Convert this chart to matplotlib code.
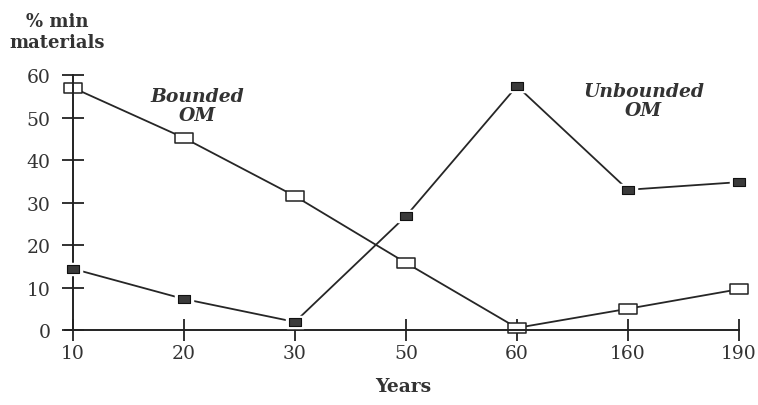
import numpy as np
import matplotlib.pyplot as plt
from matplotlib.path import Path

plt.rcParams['font.family'] = ['DejaVu Serif']

years = ['10', '20', '30', '50', '60', '160', '190']
bounded = [57, 45.2, 31.5, 15.8, 0.5, 5, 9.6]
unbounded = [14.4, 7.3, 1.9, 26.8, 57.4, 33, 34.8]
yticks = [0, 10, 20, 30, 40, 50, 60]

# wide rectangle marker
rect = Path([(-0.85, -0.5), (0.85, -0.5), (0.85, 0.5), (-0.85, 0.5), (-0.85, -0.5)],
            [Path.MOVETO, Path.LINETO, Path.LINETO, Path.LINETO, Path.CLOSEPOLY])

fig = plt.figure(figsize=(7.58, 4.06), dpi=100)
ax = fig.add_axes([0.0858, 0.1847, 0.889, 0.628])

x = np.arange(len(years))
lc = '#262626'

# unbounded OM: line with small gap around the dark markers
ax.plot(x, unbounded, color=lc, lw=1.3, zorder=2, clip_on=False)
ax.plot(x, unbounded, ls='none', marker=rect, ms=12, mfc='white', mec='white',
        mew=2.5, zorder=3, clip_on=False)
ax.plot(x, unbounded, ls='none', marker=rect, ms=9, mfc='#3a3a3a', mec='#111111',
        mew=0.8, zorder=4, clip_on=False)

# bounded OM: open squares
ax.plot(x, bounded, color=lc, lw=1.3, zorder=2, marker=rect, ms=13,
        mfc='white', mec='#222222', mew=1.1, clip_on=False)

ax.set_xlim(-0.072, 6)
ax.set_ylim(0, 60)
ax.set_xticks(x)
ax.set_xticklabels(years)
ax.set_yticks(yticks)

for s in ['top', 'right']:
    ax.spines[s].set_visible(False)
ax.spines['left'].set_position(('data', 0))
for s in ['left', 'bottom']:
    ax.spines[s].set_linewidth(1.4)
    ax.spines[s].set_color('#222222')

ax.tick_params(axis='both', direction='inout', length=16, width=1.3, colors='#222222',
               labelsize=13.5, labelcolor='#333333')
ax.tick_params(axis='x', pad=2)
ax.tick_params(axis='y', pad=8)

fig.text(0.075, 0.968, '% min\nmaterials', ha='center', va='top', fontsize=13,
         fontweight='bold', color='#333333', linespacing=1.2)
fig.text(0.532, 0.025, 'Years', ha='center', va='bottom', fontsize=13.5,
         fontweight='bold', color='#333333')

ax.text(1.12, 52.8, 'Bounded\nOM', ha='center', va='center', fontsize=13.5,
        fontweight='bold', style='italic', color='#333333', linespacing=1.05)
ax.text(5.14, 54, 'Unbounded\nOM', ha='center', va='center', fontsize=13.5,
        fontweight='bold', style='italic', color='#333333', linespacing=1.05)

fig.savefig('out.png', dpi=100)
